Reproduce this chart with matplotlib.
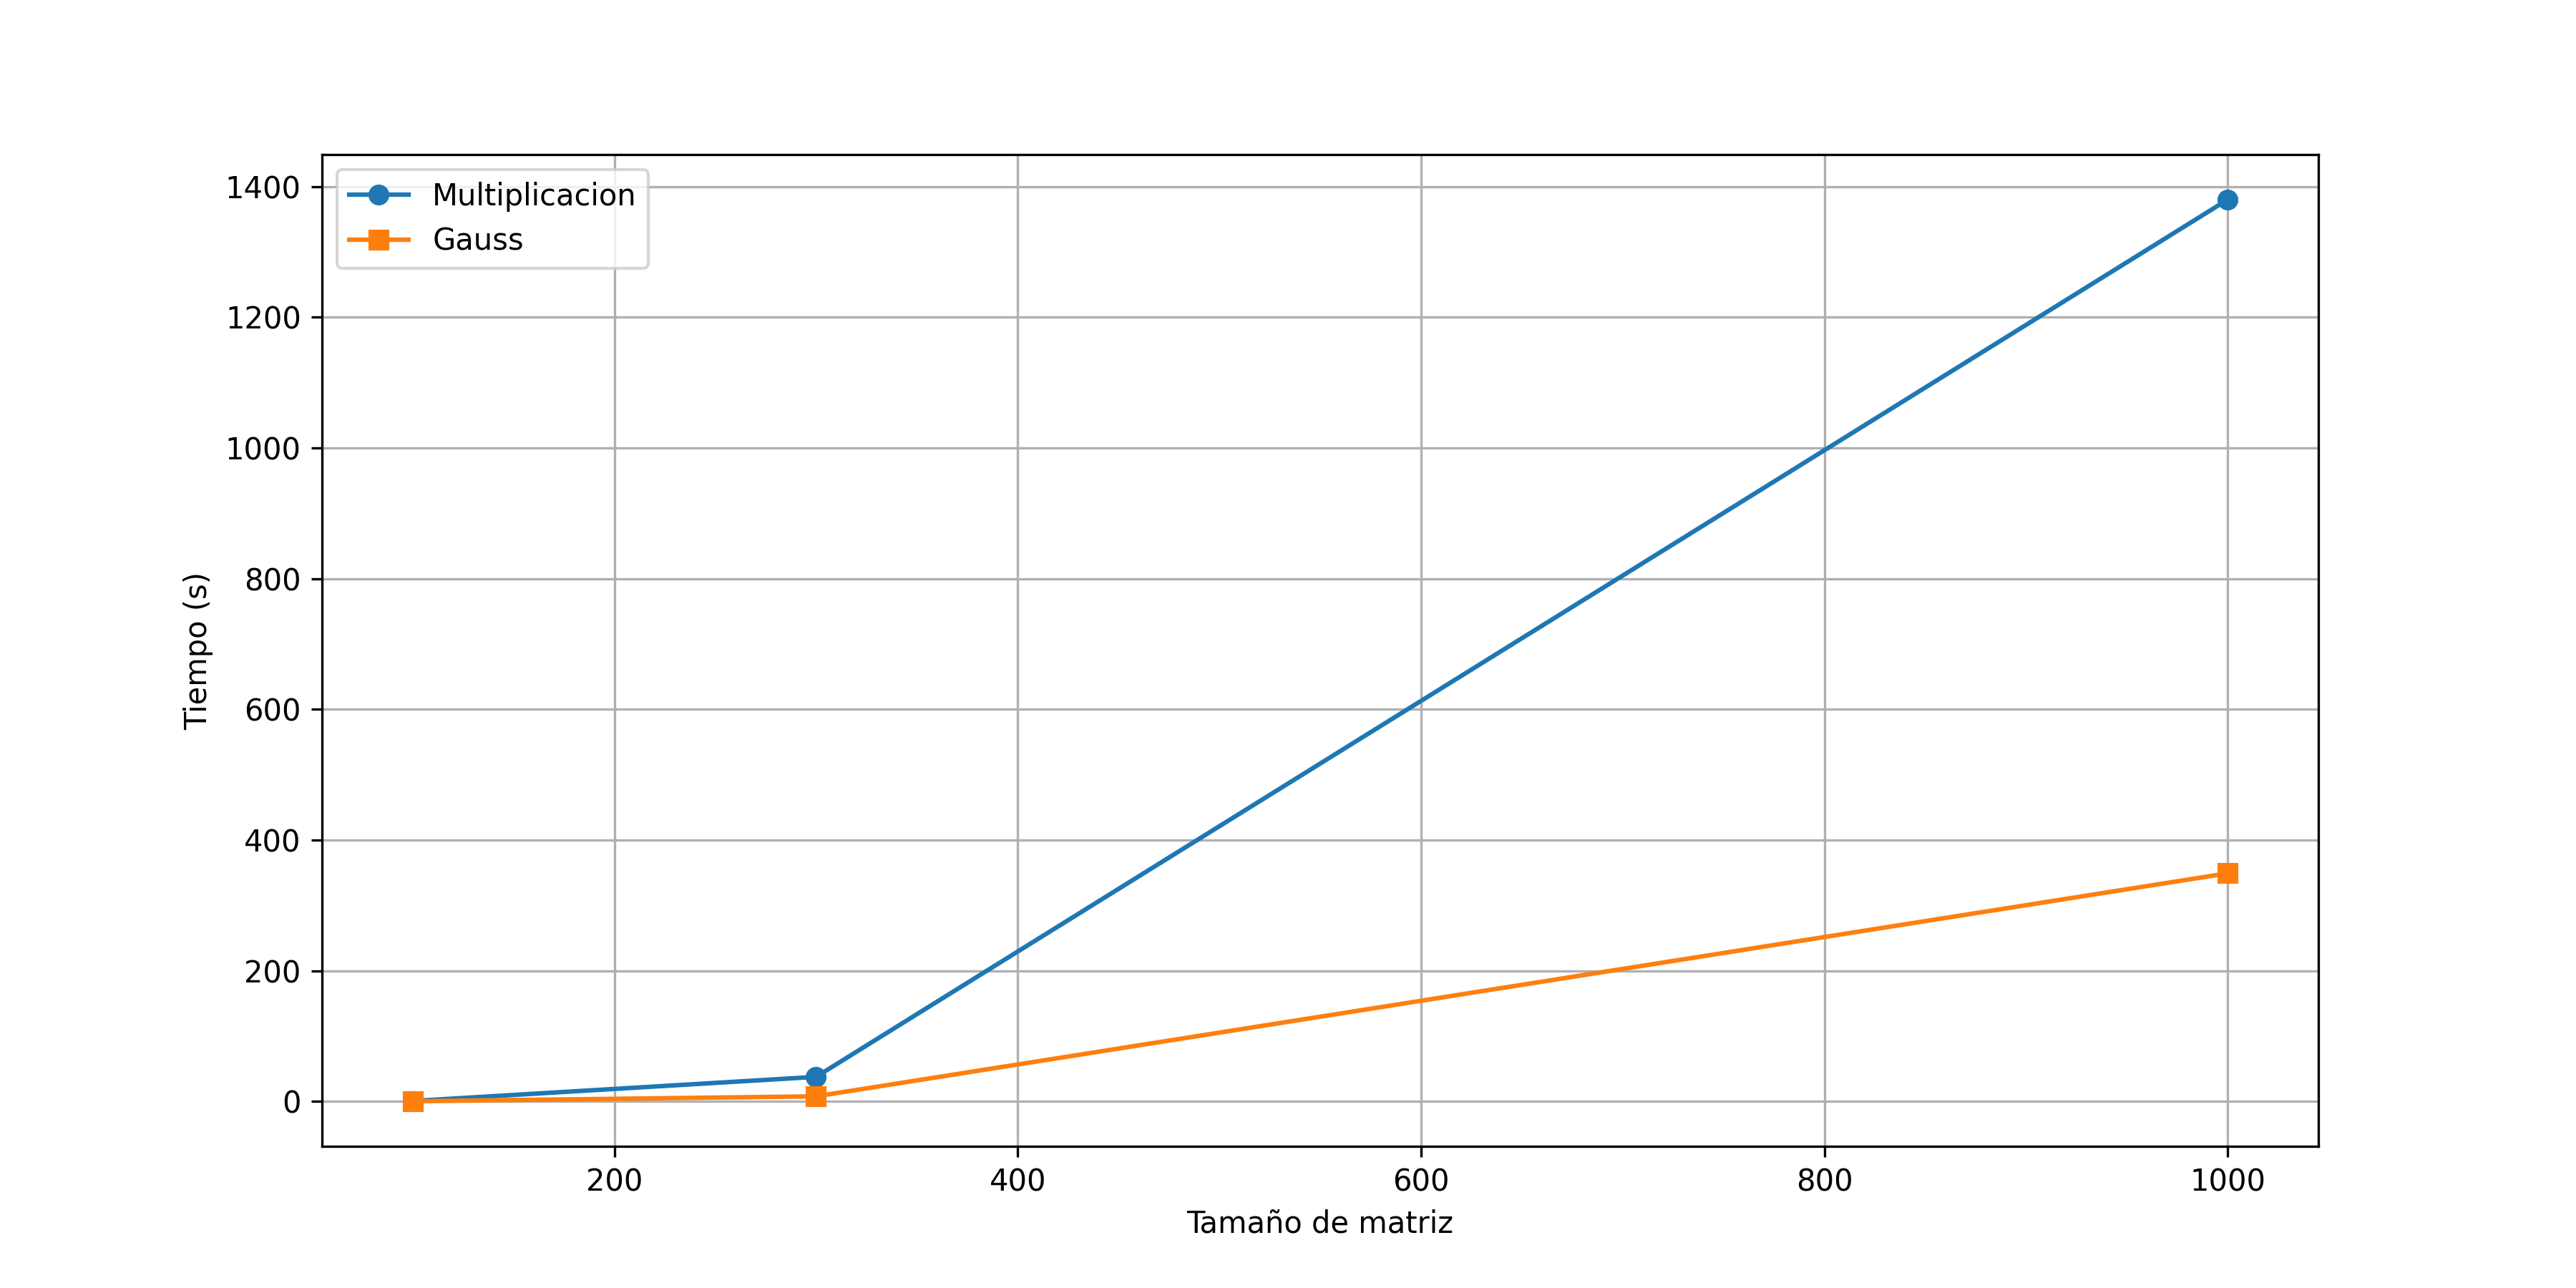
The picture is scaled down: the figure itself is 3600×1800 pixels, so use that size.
import matplotlib
matplotlib.use("Agg")
import matplotlib.pyplot as plt

sizes = [100, 300, 1000]
mult_times = [0.6, 37.5, 1380]
gauss_times = [0.2, 7.7, 349]

fig, ax = plt.subplots(figsize=(12, 6), dpi=300)
ax.plot(sizes, mult_times, marker='o', label='Multiplicacion')
ax.plot(sizes, gauss_times, marker='s', label='Gauss')
ax.set_xlabel('Tamaño de matriz')
ax.set_ylabel('Tiempo (s)')
ax.legend(loc='upper left')
ax.grid(True)
fig.savefig('out.png', dpi=300)
